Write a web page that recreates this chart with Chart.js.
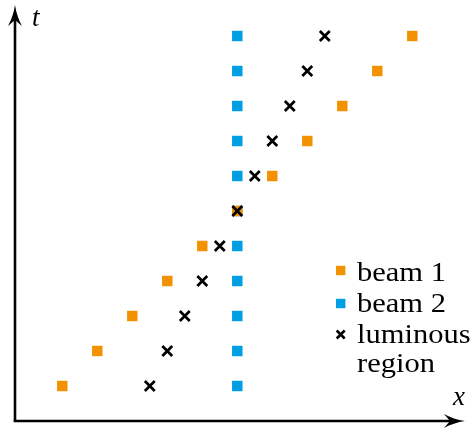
<!DOCTYPE html>
<html>
<head>
<meta charset="utf-8">
<script src="https://cdn.jsdelivr.net/npm/chart.js@4/dist/chart.umd.min.js"></script>
<style>
  html, body { margin: 0; padding: 0; background: #fff; }
  #wrap { width: 473px; height: 430px; }
</style>
</head>
<body>
<div id="wrap"><canvas id="beamChart"></canvas></div>
<script>
// time steps (one row per step)
const tSteps = [0, 1, 2, 3, 4, 5, 6, 7, 8, 9, 10];
// positions along x at each step
const beam1X = [-5, -4, -3, -2, -1, 0, 1, 2, 3, 4, 5];
const beam2X = [0, 0, 0, 0, 0, 0, 0, 0, 0, 0, 0];
const luminousX = [-2.5, -2, -1.5, -1, -0.5, 0, 0.5, 1, 1.5, 2, 2.5];

const legendLabels = [["beam 1"], ["beam 2"], ["luminous", "region"]];

const ORANGE = "#F39200";
const BLUE = "#009FE3";
const BLACK = "#000000";
const SERIF = "'Liberation Serif', 'Times New Roman', serif";

function toPoints(xs) {
    return xs.map((x, i) => ({ x: x, y: tSteps[i] }));
}

// draw an arrow-tipped axis line
function arrowLine(ctx, x0, y0, x1, y1) {
    const ang = Math.atan2(y1 - y0, x1 - x0);
    const len = 21, half = 7, notch = 6;
    ctx.save();
    ctx.strokeStyle = BLACK;
    ctx.fillStyle = BLACK;
    ctx.lineWidth = 2.6;
    ctx.beginPath();
    ctx.moveTo(x0, y0);
    ctx.lineTo(x1 - Math.cos(ang) * (len - notch), y1 - Math.sin(ang) * (len - notch));
    ctx.stroke();
    ctx.translate(x1, y1);
    ctx.rotate(ang);
    ctx.beginPath();
    ctx.moveTo(0, 0);
    ctx.quadraticCurveTo(-len * 0.55, half * 0.25, -len, half);
    ctx.lineTo(-len + notch, 0);
    ctx.lineTo(-len, -half);
    ctx.quadraticCurveTo(-len * 0.55, -half * 0.25, 0, 0);
    ctx.fill();
    ctx.restore();
}

const axesPlugin = {
    id: "axesArrows",
    beforeDatasetsDraw(chart) {
        const { ctx, chartArea } = chart;
        arrowLine(ctx, chartArea.left, chartArea.bottom, chartArea.left, chartArea.top);
        arrowLine(ctx, chartArea.left - 1.3, chartArea.bottom, chartArea.right, chartArea.bottom);

        ctx.save();
        ctx.fillStyle = BLACK;
        ctx.font = "italic 27px " + SERIF;
        ctx.textBaseline = "alphabetic";
        ctx.fillText("t", chartArea.left + 17, chartArea.top + 21);
        ctx.fillText("x", chartArea.right - 12, chartArea.bottom - 16);
        ctx.restore();
    }
};

const legendPlugin = {
    id: "sideLegend",
    afterDraw(chart) {
        const ctx = chart.ctx;
        const markX = 340.7;
        const textX = 357;
        const markY = [270.5, 303.5, 334.5];
        const baseY = [[280.5], [311.5], [342.5, 372]];
        const stretch = 1.09; // widen the glyphs a little
        ctx.save();
        chart.data.datasets.forEach((ds, i) => {
            const y = markY[i];
            if (ds.pointStyle === "rect") {
                ctx.fillStyle = ds.backgroundColor;
                ctx.fillRect(markX - 4.7, y - 4.7, 9.4, 9.4);
            } else {
                ctx.strokeStyle = ds.borderColor;
                ctx.lineWidth = 2.5;
                ctx.beginPath();
                ctx.moveTo(markX - 4, y - 4);
                ctx.lineTo(markX + 4, y + 4);
                ctx.moveTo(markX + 4, y - 4);
                ctx.lineTo(markX - 4, y + 4);
                ctx.stroke();
            }
            legendLabels[i].forEach((line, k) => {
                ctx.save();
                ctx.translate(textX, baseY[i][k]);
                ctx.scale(stretch, 1);
                ctx.font = "28px " + SERIF;
                ctx.textBaseline = "alphabetic";
                ctx.fillStyle = BLACK;
                ctx.fillText(line, 0, 0);
                ctx.restore();
            });
        });
        ctx.restore();
    }
};

new Chart(document.getElementById("beamChart"), {
    type: "scatter",
    data: {
        datasets: [
            {
                label: "beam 1",
                data: toPoints(beam1X),
                pointStyle: "rect",
                pointRadius: 7.4,
                backgroundColor: ORANGE,
                borderColor: ORANGE,
                borderWidth: 0,
                order: 1
            },
            {
                label: "beam 2",
                data: toPoints(beam2X),
                pointStyle: "rect",
                pointRadius: 7.4,
                backgroundColor: BLUE,
                borderColor: BLUE,
                borderWidth: 0,
                order: 2
            },
            {
                label: "luminous region",
                data: toPoints(luminousX),
                pointStyle: "crossRot",
                pointRadius: 7,
                borderColor: BLACK,
                borderWidth: 2.7,
                order: 0
            }
        ]
    },
    options: {
        responsive: true,
        maintainAspectRatio: false,
        animation: false,
        layout: { autoPadding: false, padding: { left: 15, right: 8, top: 5, bottom: 9 } },
        scales: {
            x: { type: "linear", display: false, min: -6.351, max: 6.506 },
            y: { type: "linear", display: false, min: -1, max: 10.886 }
        },
        plugins: {
            legend: { display: false },
            tooltip: { enabled: false }
        }
    },
    plugins: [axesPlugin, legendPlugin]
});
</script>
</body>
</html>
